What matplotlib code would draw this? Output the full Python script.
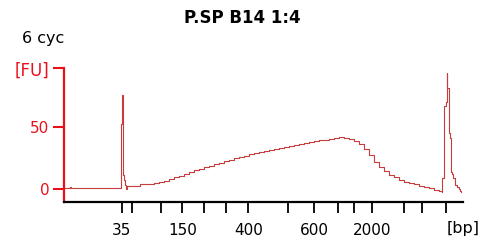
import matplotlib
matplotlib.use("Agg")
import matplotlib.pyplot as plt

# electropherogram trace: migration time (s) vs fluorescence (FU)
time_s = [40.0, 41.2, 41.4, 51.3, 51.38, 51.46, 51.56, 51.66, 51.76, 51.84,
          52.0, 52.26, 52.4, 52.6, 55.2, 56, 57, 58, 59, 60, 61, 62, 63, 64,
          65, 66, 67, 68, 69, 70, 71, 72, 73, 74, 75, 76, 77, 78, 79, 80, 81,
          82, 83, 84, 85, 86, 87, 88, 89, 90, 91, 92, 93, 94, 95, 96, 97, 98,
          99, 100, 101, 102, 103, 104, 105, 106, 107, 108, 109, 110, 111, 112,
          113, 114, 115, 115.5, 115.66, 116.0, 116.34, 116.54, 116.64, 117.0,
          117.26, 117.36, 117.66, 117.86, 118.2, 118.66, 118.9, 119.2, 119.4]
fu = [0.3, 1.0, 0.3, 0.3, 30, 53, 56, 76, 52, 11,
      7, 2.7, -0.5, 1.9, 3.3, 3.3, 3.8, 4.4, 5.3, 6.5, 7.8, 9.2, 10.6, 12.0,
      13.5, 14.9, 16.2, 17.5, 18.7, 20.0, 21.2, 22.4, 23.5, 24.6, 25.7, 26.7,
      27.8, 28.7, 29.6, 30.4, 31.2, 32.0, 32.9, 33.8, 34.8, 35.6, 36.4, 37.2,
      38.0, 38.6, 39.3, 40.0, 40.6, 41.2, 42.0, 41.5, 40.8, 39.0, 36.2, 32.0,
      27.0, 22.0, 17.5, 14.0, 11.3, 9.2, 7.2, 5.6, 4.4, 3.3, 2.2, 1.3, 0.3,
      -0.8, -2.0, -2.5, 8.4, 67, 71, 94, 82, 45, 41, 13.6, 12, 8.2, 2.7, 1.3,
      0, -2, -2.5]

# ladder sizes and their migration times
ladder_bp = [35, 50, 100, 150, 200, 300, 400, 500, 600, 700, 1000, 2000,
             3000, 7000, 10380]
ladder_time = [51.54, 53.66, 59.34, 63.66, 68.06, 72.46, 76.86, 84.86, 90.0,
               94.86, 98.06, 101.66, 108.06, 111.54, 116.4]
shown_bp = [35, 150, 400, 600, 2000]

y_ticks = [0, 50, 98]
y_labels = ["0", "50", "[FU]"]

RED = "#e8101a"
TRACE = "#c83c3c"

fig = plt.figure(figsize=(4.95, 2.44), dpi=100)
ax = fig.add_axes([0.1293, 0.1721, 0.8061, 0.5472])

ax.plot(time_s, fu, color=TRACE, linewidth=0.8, drawstyle="steps-post")

ax.set_xlim(40, 119.8)
ax.set_ylim(-11, 98)

ax.set_xticks(ladder_time)
ax.set_xticklabels([str(b) if b in shown_bp else "" for b in ladder_bp])
ax.set_yticks(y_ticks)
ax.set_yticklabels(y_labels)

ax.tick_params(axis="x", direction="out", length=8, width=1.3, color="black",
               labelsize=11, pad=7)
ax.tick_params(axis="y", direction="out", length=8, width=1.5, color=RED,
               labelcolor=RED, labelsize=11, pad=2.5)
for lab in ax.get_yticklabels()[-1:]:
    lab.set_fontsize(12)

for side in ["top", "right"]:
    ax.spines[side].set_visible(False)
ax.spines["left"].set_color(RED)
ax.spines["left"].set_linewidth(1.6)
ax.spines["bottom"].set_color("black")
ax.spines["bottom"].set_linewidth(1.6)

ax.text(1.0, -0.2, "[bp]", transform=ax.transAxes, ha="center", va="center",
        fontsize=11.5)

fig.text(0.49, 0.907, "P.SP B14 1:4", ha="center", va="baseline",
         fontsize=12, fontweight="bold")
fig.text(0.044, 0.8225, "6 cyc", ha="left", va="baseline", fontsize=11.5)

fig.savefig("out.png", dpi=100)
